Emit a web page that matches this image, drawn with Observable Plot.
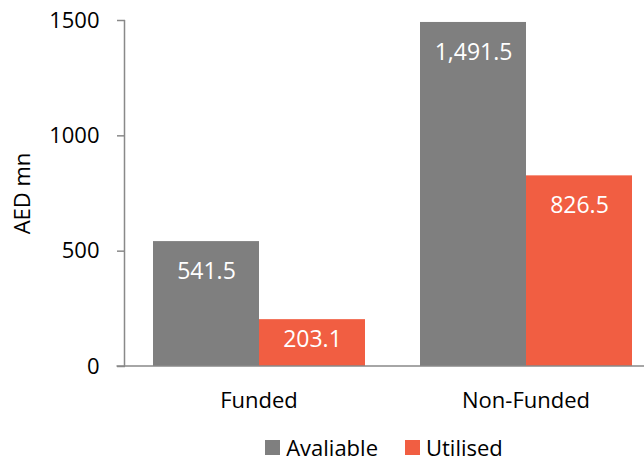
<!DOCTYPE html>
<html>
<head>
<meta charset="utf-8">
<script src="https://cdn.jsdelivr.net/npm/d3@7"></script>
<script src="https://cdn.jsdelivr.net/npm/@observablehq/plot@0.6"></script>
<style>
  html, body { margin: 0; padding: 0; background: #fff; }
  body { width: 644px; height: 463px; overflow: hidden; font-family: "Open Sans", sans-serif; }
  #chart svg { display: block; }
  #legend { display: flex; justify-content: center; align-items: center; padding-left: 124px; margin-top: 2px; height: 30px; line-height: 30px; font-size: 22px; color: #000; }
  .item { display: flex; align-items: center; }
  .sw { width: 15px; height: 15px; display: inline-block; margin-right: 6px; }
</style>
</head>
<body>
<div id="chart"></div>
<div id="legend"></div>
<script>
const categories = ["Funded", "Non-Funded"];
const series = ["Avaliable", "Utilised"];
const availableValues = [541.5, 1491.5];
const utilisedValues = [203.1, 826.5];
const yTicks = [0, 500, 1000, 1500];
const seriesColors = ["#7F7F7F", "#F15E42"];

const data = categories.flatMap((c, i) => [
  {category: c, series: series[0], value: availableValues[i]},
  {category: c, series: series[1], value: utilisedValues[i]}
]);
const fmt = d3.format(",.1f");
const W = 644, H = 430, ML = 124, MT = 20, MB = 64;

const plot = Plot.plot({
  width: W,
  height: H,
  marginLeft: ML,
  marginRight: 0,
  marginTop: MT,
  marginBottom: MB,
  style: {fontFamily: "Open Sans, sans-serif", fontSize: "22px", color: "#000", background: "#fff"},
  facet: {data, x: "category", label: null},
  fx: {domain: categories, range: [124.5, 658.5], padding: 0, tickSize: 0, tickPadding: 26, label: null},
  x: {domain: series, paddingInner: 0, paddingOuter: 0.25, axis: null},
  y: {domain: [0, 1500], ticks: yTicks, tickSize: 8, tickPadding: 18, label: "AED mn", labelArrow: false, labelAnchor: "center", labelOffset: 111, tickFormat: d => String(d)},
  color: {domain: series, range: seriesColors},
  marks: [
    Plot.barY(data, {x: "series", y: "value", fill: "series", inset: 0}),
    Plot.text(data, {filter: d => d.value >= 300, x: "series", y: "value", text: d => fmt(d.value), dy: 30, fill: "#fff", fontSize: 23}),
    Plot.text(data, {filter: d => d.value < 300, x: "series", y: d => 0, text: d => fmt(d.value), dy: -27, fill: "#fff", fontSize: 23})
  ]
});
document.getElementById("chart").appendChild(plot);

const svgNode = plot.tagName.toLowerCase() === "svg" ? plot : plot.querySelector("svg");
const svg = d3.select(svgNode);
// strip any automatic arrow from the axis label
svg.selectAll("text").each(function() {
  if (this.textContent.indexOf("AED mn") >= 0) this.textContent = "AED mn";
});
// axis lines drawn through Plot's own y scale
const ys = plot.scale("y");
const y0 = ys.apply ? ys.apply(0) : H - MB;
const y1 = ys.apply ? ys.apply(1500) : MT;
svg.append("line").attr("x1", ML + 0.5).attr("x2", ML + 0.5).attr("y1", y1).attr("y2", y0).attr("stroke", "#898989").attr("stroke-width", 1.5);
svg.append("line").attr("x1", ML - 7.5).attr("x2", W).attr("y1", y0).attr("y2", y0).attr("stroke", "#898989").attr("stroke-width", 1.5);
svg.selectAll("g[aria-label='y-axis'] line, g[aria-label='y-axis tick'] path").attr("stroke", "#898989").attr("stroke-width", 1.5);

const legend = document.getElementById("legend");
series.forEach((s, i) => {
  const item = document.createElement("div");
  item.className = "item";
  if (i > 0) item.style.marginLeft = "27px";
  const sw = document.createElement("span");
  sw.className = "sw";
  sw.style.background = seriesColors[i];
  item.appendChild(sw);
  const t = document.createElement("span");
  t.textContent = s;
  item.appendChild(t);
  legend.appendChild(item);
});
</script>
</body>
</html>
